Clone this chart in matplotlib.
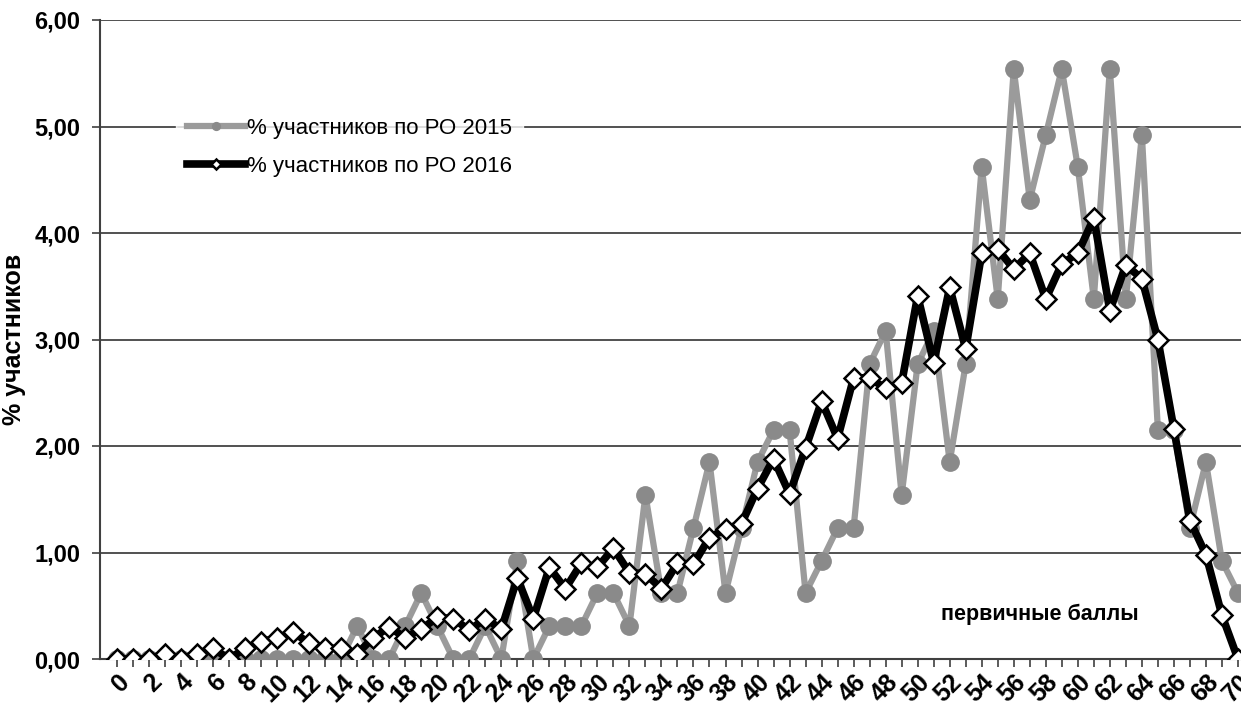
import numpy as np
import matplotlib.pyplot as plt
import matplotlib.transforms as mtransforms

# баллы 0..70
x = list(range(71))

# % участников по РО 2015
p2015 = [0, 0, 0, 0, 0, 0, 0, 0, 0, 0,
         0, 0, 0, 0, 0, 0.31, 0, 0, 0.31, 0.62,
         0.31, 0, 0, 0.31, 0, 0.92, 0, 0.31, 0.31, 0.31,
         0.62, 0.62, 0.31, 1.54, 0.62, 0.62, 1.23, 1.85, 0.62, 1.23,
         1.85, 2.15, 2.15, 0.62, 0.92, 1.23, 1.23, 2.77, 3.08, 1.54,
         2.77, 3.08, 1.85, 2.77, 4.62, 3.38, 5.54, 4.31, 4.92, 5.54,
         4.62, 3.38, 5.54, 3.38, 4.92, 2.15, 2.15, 1.23, 1.85, 0.92, 0.62]

# % участников по РО 2016
p2016 = [0, 0, 0, 0.05, 0, 0.05, 0.1, 0, 0.1, 0.16,
         0.2, 0.25, 0.15, 0.1, 0.1, 0.05, 0.2, 0.3, 0.2, 0.28,
         0.39, 0.38, 0.27, 0.38, 0.28, 0.76, 0.38, 0.86, 0.66, 0.9,
         0.86, 1.04, 0.81, 0.8, 0.66, 0.9, 0.89, 1.14, 1.22, 1.27,
         1.6, 1.88, 1.55, 1.98, 2.42, 2.07, 2.64, 2.64, 2.54, 2.59,
         3.41, 2.78, 3.49, 2.91, 3.81, 3.85, 3.66, 3.81, 3.38, 3.71,
         3.81, 4.14, 3.27, 3.7, 3.57, 3.0, 2.16, 1.3, 0.98, 0.41, 0]

plt.rcParams['font.family'] = ['Liberation Sans', 'DejaVu Sans']

fig = plt.figure(figsize=(12.41, 7.07), dpi=100)
ax = fig.add_axes([100/1241, 48/707, 1141/1241, 639/707])

ax.plot(x, p2015, color='#9b9b9b', lw=4.5, marker='o', ms=12.5,
        mfc='#8a8a8a', mec='#8a8a8a', label='% участников по РО 2015', zorder=3)
ax.plot(x, p2016, color='black', lw=5.5, marker='D', ms=10.5,
        mfc='white', mec='black', mew=1.8, label='% участников по РО 2016', zorder=4)

ax.set_xlim(-1.06, 70.19)
ax.set_ylim(0, 6)
ax.set_yticks(np.arange(0, 7, 1))
ax.set_yticklabels([('%.2f' % v).replace('.', ',') for v in range(7)],
                   fontsize=17, fontweight='bold')
ax.set_xticks(x)
ax.set_xticklabels([str(v) if v % 2 == 0 else '' for v in x], rotation=45,
                   ha='right', va='top', rotation_mode='anchor',
                   fontsize=18, fontweight='bold')
# сдвиг подписей оси X вправо, как в Excel
shift = mtransforms.ScaledTranslation(10/100, 0, fig.dpi_scale_trans)
for lab in ax.get_xticklabels():
    lab.set_transform(lab.get_transform() + shift)
ax.tick_params(axis='x', length=6, width=1.2, color='#404040', pad=2)
ax.tick_params(axis='y', length=6, width=1.2, color='#404040', pad=8)

for y in range(1, 7):
    ax.axhline(y, color='#333333', lw=1.2, zorder=1)
ax.spines['top'].set_visible(False)
ax.spines['right'].set_visible(False)
ax.spines['left'].set_color('#404040')
ax.spines['bottom'].set_color('#404040')
ax.spines['left'].set_linewidth(1.5)
ax.spines['bottom'].set_linewidth(1.5)

ax.set_ylabel('% участников', fontsize=18, fontweight='bold', labelpad=6)
ax.text(0.737, 0.07, 'первичные баллы', transform=ax.transAxes,
        fontsize=15.5, fontweight='bold', va='center')

leg = ax.legend(loc='upper left', bbox_to_anchor=(176/1241, 1 - 107/707),
                bbox_transform=fig.transFigure, fontsize=16, frameon=True,
                handlelength=2.6, handletextpad=0.1, labelspacing=0.75,
                borderpad=0.5, borderaxespad=0, fancybox=False, markerscale=0.45)
leg.get_frame().set_facecolor('white')
leg.get_frame().set_edgecolor('white')
leg.set_zorder(5)

plt.savefig('out.png', dpi=100)
